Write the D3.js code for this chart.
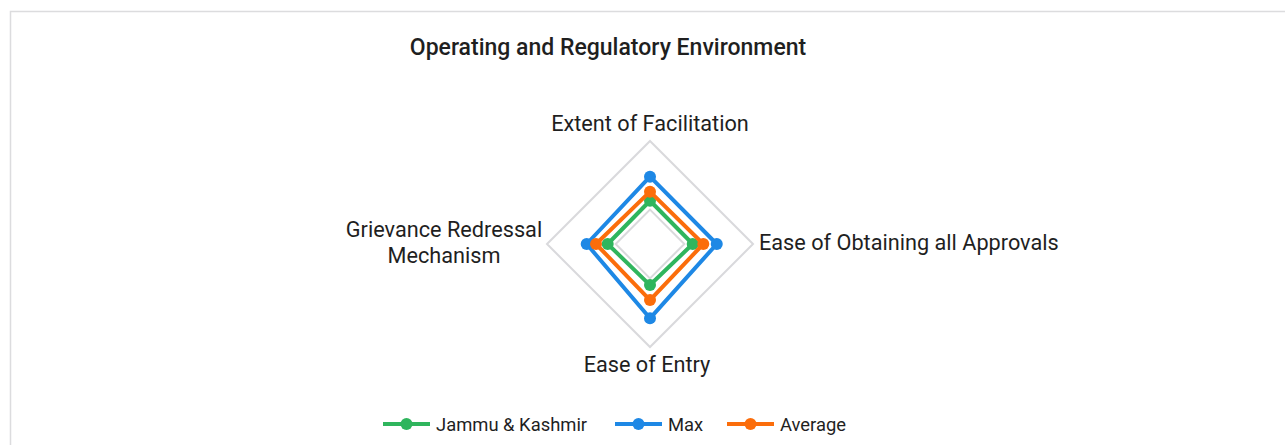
<!DOCTYPE html>
<html>
<head>
<meta charset="utf-8">
<script src="https://cdn.jsdelivr.net/npm/d3@7"></script>
<style>
  html, body { margin: 0; padding: 0; background: #fff; }
  svg { display: block; }
  text { font-family: Roboto, "Liberation Sans", sans-serif; fill: #1f1f1f; }
</style>
</head>
<body>
<script>
const axes = [
    "Extent of Facilitation",
    "Ease of Obtaining all Approvals",
    "Ease of Entry",
    "Grievance Redressal Mechanism"
]

const seriesNames = ["Jammu & Kashmir", "Max", "Average"]
const jkValues = [0.565, 0.561, 0.549, 0.558]
const maxValues = [0.74, 0.736, 0.791, 0.711]
const avgValues = [0.631, 0.638, 0.658, 0.643]
const ringValues = [0.5, 1.0]

const colors = ["#2fb55d", "#1e88e5", "#fb6d0b"]

const series = [jkValues, maxValues, avgValues].map((values, i) => ({
    name: seriesNames[i],
    values,
    color: colors[i]
}))

const width = 1285
const height = 445
const cx = 650, cy = 244, radius = 103

const svg = d3.select("body")
    .append("svg")
    .attr("width", width)
    .attr("height", height)

// chart frame (cropped on the right and bottom)
svg.append("rect")
    .attr("x", 10.5)
    .attr("y", 11.5)
    .attr("width", 1400)
    .attr("height", 600)
    .attr("fill", "none")
    .attr("stroke", "#dcdcde")
    .attr("stroke-width", 1.5)

svg.append("text")
    .attr("x", 608)
    .attr("y", 55)
    .attr("text-anchor", "middle")
    .attr("font-size", 23)
    .attr("font-weight", 500)
    .text("Operating and Regulatory Environment")

// scales
const rScale = d3.scaleLinear().domain([0.25, 1]).range([0, radius])
const angle = d3.scaleBand().domain(axes).range([0, 2 * Math.PI])
const pt = (axis, v) => {
    const a = angle(axis)
    return [cx + rScale(v) * Math.sin(a), cy - rScale(v) * Math.cos(a)]
}

const g = svg.append("g")

// gridlines
g.selectAll(".ring")
    .data(ringValues)
    .join("polygon")
    .attr("class", "ring")
    .attr("points", v => axes.map(a => pt(a, v).join(",")).join(" "))
    .attr("fill", "none")
    .attr("stroke", "#d9d9dc")
    .attr("stroke-width", 2)

// series
const sg = g.selectAll(".series")
    .data(series)
    .join("g")
    .attr("class", "series")

sg.append("polygon")
    .attr("points", d => d.values.map((v, i) => pt(axes[i], v).join(",")).join(" "))
    .attr("fill", "none")
    .attr("stroke", d => d.color)
    .attr("stroke-width", 4)
    .attr("stroke-linejoin", "round")

sg.selectAll("circle")
    .data(d => d.values.map((v, i) => ({ v, axis: axes[i], color: d.color })))
    .join("circle")
    .attr("cx", d => pt(d.axis, d.v)[0])
    .attr("cy", d => pt(d.axis, d.v)[1])
    .attr("r", 6)
    .attr("fill", d => d.color)

// category labels
const labelSize = 21.7
svg.append("text")
    .attr("x", 650).attr("y", 131)
    .attr("text-anchor", "middle")
    .attr("font-size", labelSize)
    .text(axes[0])

svg.append("text")
    .attr("x", 759).attr("y", 250)
    .attr("font-size", labelSize)
    .text(axes[1])

svg.append("text")
    .attr("x", 647).attr("y", 372)
    .attr("text-anchor", "middle")
    .attr("font-size", labelSize)
    .text(axes[2])

svg.append("text")
    .attr("x", 444).attr("y", 237)
    .attr("text-anchor", "middle")
    .attr("font-size", labelSize)
    .selectAll("tspan")
    .data(["Grievance Redressal", "Mechanism"])
    .join("tspan")
    .attr("x", 444)
    .attr("dy", (d, i) => i ? 26 : 0)
    .text(d => d)

// legend
const legendX = [383, 615, 727]
const lg = svg.append("g")
    .selectAll("g")
    .data(series)
    .join("g")
    .attr("transform", (d, i) => `translate(${legendX[i]},424)`)

lg.append("line")
    .attr("x1", 0).attr("x2", 47)
    .attr("stroke", d => d.color)
    .attr("stroke-width", 4)

lg.append("circle")
    .attr("cx", 23.5)
    .attr("r", 6)
    .attr("fill", d => d.color)

lg.append("text")
    .attr("x", 53)
    .attr("y", 7)
    .attr("font-size", 18.4)
    .text(d => d.name)
</script>
</body>
</html>
